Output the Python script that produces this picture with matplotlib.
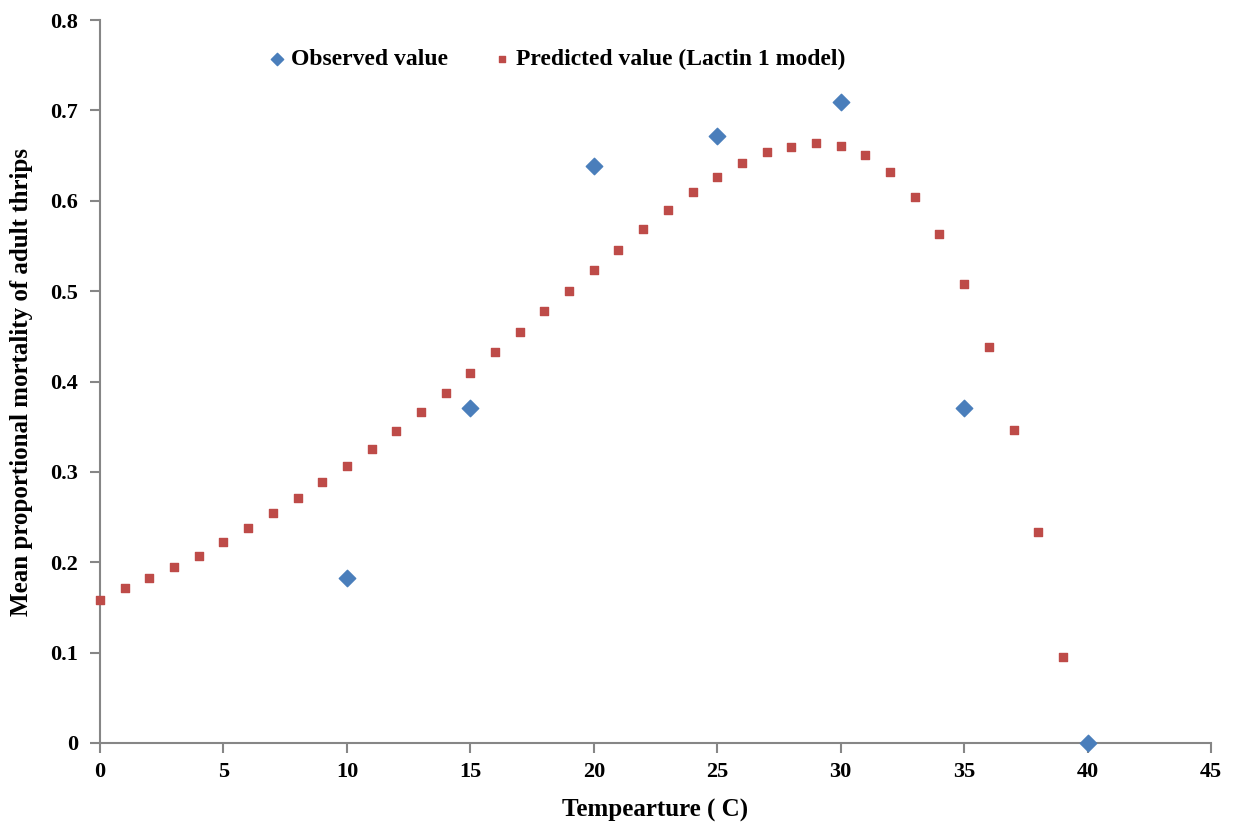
import numpy as np
import matplotlib.pyplot as plt

# datos
temp_obs = [10, 15, 20, 25, 30, 35, 40]
mort_obs = [0.183, 0.371, 0.638, 0.672, 0.709, 0.371, 0.0]

temp_pred = list(range(0, 40))
mort_pred = [0.158, 0.172, 0.183, 0.195, 0.207, 0.222, 0.238, 0.255, 0.271, 0.289,
             0.307, 0.325, 0.345, 0.366, 0.387, 0.409, 0.433, 0.455, 0.478, 0.500,
             0.523, 0.546, 0.569, 0.590, 0.610, 0.626, 0.642, 0.654, 0.660, 0.664,
             0.661, 0.651, 0.632, 0.604, 0.563, 0.508, 0.438, 0.346, 0.233, 0.095]

plt.rcParams['font.family'] = ['Liberation Serif', 'DejaVu Serif']

fig = plt.figure(figsize=(12.44, 8.31), dpi=100)
ax = fig.add_axes([0.0804, 0.1059, 0.8931, 0.870])

ax.scatter(temp_obs, mort_obs, marker='D', s=70, color='#4a7ebb', label='Observed value',
           zorder=3, clip_on=False)
ax.scatter(temp_pred, mort_pred, marker='s', s=38, color='#be4b48',
           label='Predicted value (Lactin 1 model)', zorder=3, clip_on=False)

ax.set_xlim(0, 45)
ax.set_ylim(0, 0.8)
ax.set_xticks(np.arange(0, 46, 5))
ax.set_yticks(np.arange(0, 0.81, 0.1))
ax.set_yticklabels(['0', '0.1', '0.2', '0.3', '0.4', '0.5', '0.6', '0.7', '0.8'])

for s in ['top', 'right']:
    ax.spines[s].set_visible(False)
for s in ['left', 'bottom']:
    ax.spines[s].set_color('#868686')
    ax.spines[s].set_linewidth(1.5)
ax.tick_params(axis='both', color='#868686', width=1.5, length=7, direction='out',
               labelsize=16)
ax.tick_params(axis='x', pad=7)
ax.tick_params(axis='y', pad=9)
for lab in ax.get_xticklabels() + ax.get_yticklabels():
    lab.set_fontweight('bold')

ax.set_xlabel('Tempearture ( C)', fontsize=18, fontweight='bold', labelpad=12)
ax.set_ylabel('Mean proportional mortality of adult thrips', fontsize=18,
              fontweight='bold', labelpad=12)

leg = ax.legend(loc='upper center', bbox_to_anchor=(0.412, 0.99), ncol=2, frameon=False,
                prop={'size': 17, 'weight': 'bold'}, handlelength=0.6,
                handletextpad=0.3, columnspacing=2.0, markerscale=0.75)

fig.savefig('out.png', dpi=100)
